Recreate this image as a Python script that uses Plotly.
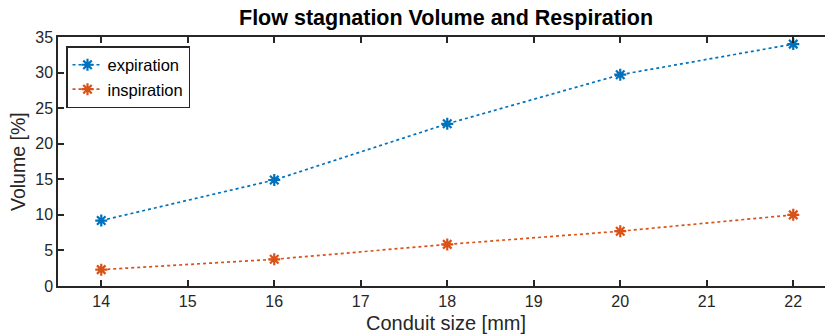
import plotly.graph_objects as go

sizes = [14, 16, 18, 20, 22]
expiration = [9.2, 14.9, 22.8, 29.7, 34.0]
inspiration = [2.3, 3.75, 5.85, 7.7, 10.0]
x_ticks = [14, 15, 16, 17, 18, 19, 20, 21, 22]
y_ticks = [0, 5, 10, 15, 20, 25, 30, 35]

blue = "#0072BD"
orange = "#D95319"
axcol = "#262626"
font = "Liberation Sans, Arial, Helvetica, sans-serif"

fig = go.Figure()
for name, vals, col in [("expiration", expiration, blue), ("inspiration", inspiration, orange)]:
    fig.add_trace(go.Scatter(
        x=sizes, y=vals, name=name, mode="lines+markers",
        line=dict(color=col, width=1.7, dash="dot"),
        marker=dict(symbol="asterisk-open", size=10, color=col, line=dict(color=col, width=2.2)),
    ))

L, R = 58, 825
T, B = 37, 286
xmin = 13.5
xmax = 13.5 + (R - L) / 86.5
pw = R - L
ph = B - T
center_paper = (446 - L) / pw

fig.update_layout(
    width=825, height=334,
    margin=dict(l=L, r=825 - R, t=T, b=334 - B),
    paper_bgcolor="white", plot_bgcolor="white",
    font=dict(family=font, color=axcol, size=16),
    showlegend=True,
    legend=dict(x=(66 - L) / pw, y=(B - 46) / ph, xanchor="left", yanchor="top",
                bgcolor="white", bordercolor=axcol, borderwidth=1.5,
                font=dict(size=16.5, color="#000000"),
                tracegroupgap=0, itemwidth=30),
    xaxis=dict(range=[xmin, xmax], tickvals=x_ticks, ticks="inside", ticklen=6, tickwidth=1.5,
               tickcolor=axcol, showline=True, linecolor=axcol, linewidth=1.5, mirror="ticks",
               showgrid=False, zeroline=False, tickfont=dict(size=16, color=axcol)),
    yaxis=dict(range=[0, 35], tickvals=y_ticks, ticks="inside", ticklen=6, tickwidth=1.5,
               tickcolor=axcol, showline=True, linecolor=axcol, linewidth=1.5, mirror=False,
               showgrid=False, zeroline=False, tickfont=dict(size=16, color=axcol)),
    annotations=[
        dict(text="<b>Flow stagnation Volume and Respiration</b>", x=center_paper,
             y=(B - 18) / ph, xref="paper", yref="paper", yanchor="middle",
             showarrow=False, font=dict(size=21.5, color="#000000")),
        dict(text="Conduit size [mm]", x=center_paper, y=(B - 323) / ph, xref="paper",
             yref="paper", yanchor="middle",
             showarrow=False, font=dict(size=20, color=axcol)),
        dict(text="Volume [%]", x=(18 - L) / pw, y=(B - 162) / ph, xref="paper", yref="paper",
             textangle=-90, xanchor="center", yanchor="middle",
             showarrow=False, font=dict(size=19.5, color=axcol)),
    ],
)

fig.write_html("out.html")
